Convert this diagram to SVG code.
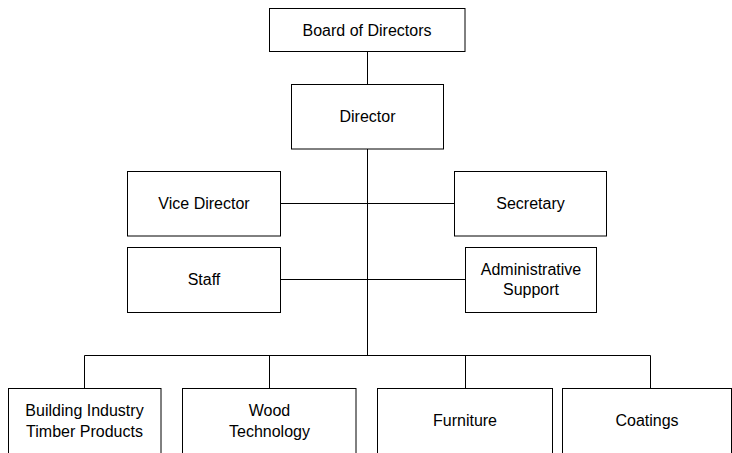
<svg xmlns="http://www.w3.org/2000/svg" width="732" height="453" viewBox="0 0 732 453">
<style>
rect{fill:#fff;stroke:#000;stroke-width:1}
line,polyline{stroke:#000;stroke-width:1;fill:none}
text{font-family:"Liberation Sans",Arial,sans-serif;font-size:16px;fill:#000;text-anchor:middle;dominant-baseline:central}
</style>
<rect x="0" y="0" width="732" height="453" style="stroke:none"/>
<g id="connectors">
<line x1="367.5" y1="51.5" x2="367.5" y2="84.5"/>
<line x1="367.5" y1="149" x2="367.5" y2="355.5"/>
<line x1="280.5" y1="203.5" x2="454.5" y2="203.5"/>
<line x1="280.5" y1="279.5" x2="465.5" y2="279.5"/>
<polyline points="84.5,388.5 84.5,355.5 650.5,355.5 650.5,388.5"/>
<line x1="269.5" y1="355.5" x2="269.5" y2="388.5"/>
<line x1="465.5" y1="355.5" x2="465.5" y2="388.5"/>
</g>
<g id="board"><rect x="269.5" y="8.5" width="195.5" height="43"/><text x="367" y="30">Board of Directors</text></g>
<g id="director"><rect x="291.5" y="84.5" width="152" height="64.5"/><text x="367.5" y="116.5">Director</text></g>
<g id="vice"><rect x="127.5" y="171.5" width="153" height="64.5"/><text x="204" y="203.5">Vice Director</text></g>
<g id="staff"><rect x="127.5" y="247.5" width="153" height="65"/><text x="204" y="279.5">Staff</text></g>
<g id="secretary"><rect x="454.5" y="171.5" width="152" height="64.5"/><text x="530.5" y="203.5">Secretary</text></g>
<g id="admin"><rect x="465.5" y="247.5" width="131" height="65"/><text x="531" y="269.5">Administrative</text><text x="531" y="289.5">Support</text></g>
<g id="building"><rect x="8.5" y="388.5" width="152.5" height="80"/><text x="84.5" y="410">Building Industry</text><text x="84.5" y="431">Timber Products</text></g>
<g id="wood"><rect x="182.5" y="388.5" width="173.5" height="80"/><text x="269.5" y="410">Wood</text><text x="269.5" y="431">Technology</text></g>
<g id="furniture"><rect x="377.5" y="388.5" width="175" height="80"/><text x="465" y="420.5">Furniture</text></g>
<g id="coatings"><rect x="562.5" y="388.5" width="169" height="80"/><text x="647" y="420.5">Coatings</text></g>
</svg>
